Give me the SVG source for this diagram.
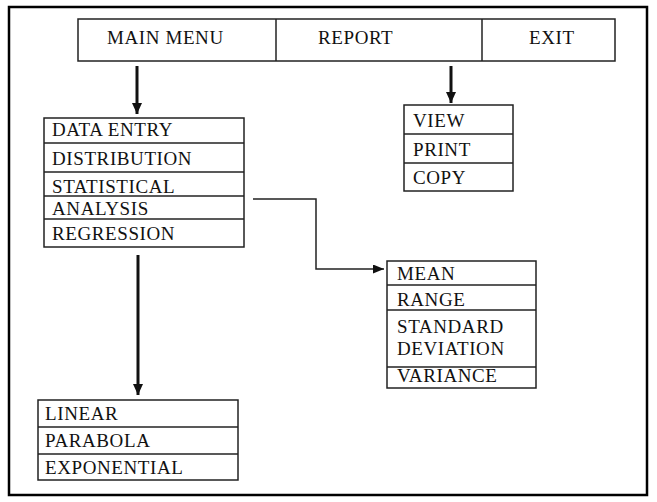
<svg xmlns="http://www.w3.org/2000/svg" width="657" height="502" viewBox="0 0 657 502">
<defs>
<style>
.t{font-family:"Liberation Serif","Times New Roman",serif;font-size:19px;letter-spacing:0.6px;fill:#111}
.b{fill:none;stroke:#222;stroke-width:1.5}
.thick{stroke:#111;stroke-width:3;fill:none}
.thin{stroke:#222;stroke-width:1.5;fill:none}
</style>
<marker id="ah" markerUnits="userSpaceOnUse" markerWidth="12" markerHeight="12" refX="11" refY="5" orient="auto">
<path d="M0,0 L11,5 L0,10 z" fill="#111"/>
</marker>
<marker id="ah2" markerUnits="userSpaceOnUse" markerWidth="12" markerHeight="10" refX="11" refY="4.5" orient="auto">
<path d="M0,0 L11,4.5 L0,9 z" fill="#111"/>
</marker>
</defs>
<rect x="0" y="0" width="657" height="502" fill="#fff"/>
<rect x="9" y="7" width="638" height="488" fill="none" stroke="#000" stroke-width="2.5"/>

<g id="menu">
<rect class="b" x="78" y="19" width="537" height="42"/>
<line class="b" x1="276" y1="19" x2="276" y2="61"/>
<line class="b" x1="482" y1="19" x2="482" y2="61"/>
<text class="t" x="107" y="44">MAIN MENU</text>
<text class="t" x="318" y="44">REPORT</text>
<text class="t" x="529" y="44">EXIT</text>
</g>

<g id="mainlist">
<rect class="b" x="44" y="118" width="200" height="129"/>
<line class="b" x1="44" y1="143" x2="244" y2="143"/>
<line class="b" x1="44" y1="172" x2="244" y2="172"/>
<line class="b" x1="44" y1="196" x2="244" y2="196"/>
<line class="b" x1="44" y1="219" x2="244" y2="219"/>
<text class="t" x="52" y="136">DATA ENTRY</text>
<text class="t" x="52" y="165">DISTRIBUTION</text>
<text class="t" x="52" y="193">STATISTICAL</text>
<text class="t" x="52" y="215">ANALYSIS</text>
<text class="t" x="52" y="240">REGRESSION</text>
</g>

<g id="reportlist">
<rect class="b" x="404" y="105" width="109" height="86"/>
<line class="b" x1="404" y1="134" x2="513" y2="134"/>
<line class="b" x1="404" y1="163" x2="513" y2="163"/>
<text class="t" x="413" y="127">VIEW</text>
<text class="t" x="413" y="156">PRINT</text>
<text class="t" x="413" y="184">COPY</text>
</g>

<g id="statlist">
<rect class="b" x="387" y="261" width="149" height="127"/>
<line class="b" x1="387" y1="285" x2="536" y2="285"/>
<line class="b" x1="387" y1="310" x2="536" y2="310"/>
<line class="b" x1="387" y1="367" x2="536" y2="367"/>
<text class="t" x="397" y="280">MEAN</text>
<text class="t" x="397" y="306">RANGE</text>
<text class="t" x="397" y="333">STANDARD</text>
<text class="t" x="397" y="355">DEVIATION</text>
<text class="t" x="397" y="382">VARIANCE</text>
</g>

<g id="reglist">
<rect class="b" x="38" y="400" width="200" height="80"/>
<line class="b" x1="38" y1="427" x2="238" y2="427"/>
<line class="b" x1="38" y1="454" x2="238" y2="454"/>
<text class="t" x="45" y="420">LINEAR</text>
<text class="t" x="45" y="447">PARABOLA</text>
<text class="t" x="45" y="474">EXPONENTIAL</text>
</g>

<g id="connectors">
<line class="thick" x1="137" y1="66" x2="137" y2="114" marker-end="url(#ah)"/>
<line class="thick" x1="451" y1="66" x2="451" y2="103" marker-end="url(#ah)"/>
<line class="thick" x1="138" y1="255" x2="138" y2="395" marker-end="url(#ah)"/>
<polyline class="thin" points="253,199 316,199 316,269 384,269" marker-end="url(#ah2)"/>
</g>
</svg>
